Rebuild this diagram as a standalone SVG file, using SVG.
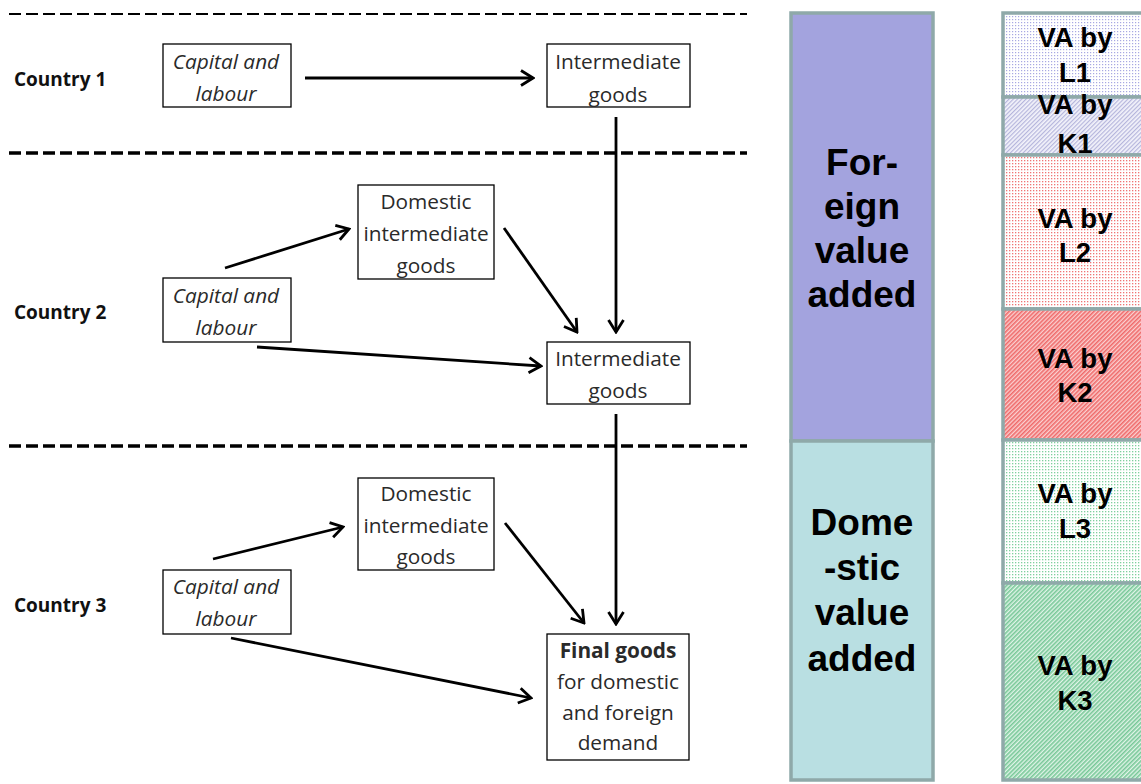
<svg xmlns="http://www.w3.org/2000/svg" width="1141" height="784" viewBox="0 0 1141 784">
<style>
.box{fill:#fff;stroke:#000;stroke-width:1.3}
.bt{font-family:"Open Sans","Liberation Sans",sans-serif;font-size:20.8px;fill:#2a2a2a;text-anchor:middle}
.it{font-style:italic}
.cl{font-family:"Open Sans","Liberation Sans",sans-serif;font-size:19px;font-weight:bold;fill:#111}
.dash{stroke:#000;stroke-dasharray:12 5;fill:none}
.arr{stroke:#000;stroke-width:2.8;fill:none;marker-end:url(#ah)}
.big{font-family:"Liberation Sans",Arial,sans-serif;font-weight:bold;font-size:37px;fill:#000;text-anchor:middle}
.va{font-family:"Liberation Sans",Arial,sans-serif;font-weight:bold;font-size:27.5px;fill:#000;text-anchor:middle}
.seg{stroke:#8fa9a9;stroke-width:3.5}
</style>
<defs>
<marker id="ah" viewBox="-15 -10 17 20" refX="0" refY="0" markerWidth="17" markerHeight="20" markerUnits="userSpaceOnUse" orient="auto">
<path d="M-12,-7.5 L0,0 L-12,7.5" fill="none" stroke="#000" stroke-width="2.8"/>
</marker>
<pattern id="dotP" width="3" height="3" patternUnits="userSpaceOnUse"><rect width="3" height="3" fill="#fff"/><rect x="1" y="1" width="1.2" height="1.2" fill="#a8a8e2"/></pattern>
<pattern id="hatP" width="3" height="3" patternUnits="userSpaceOnUse" patternTransform="rotate(45)"><rect width="3" height="3" fill="#f3f3fb"/><rect width="1.2" height="3" fill="#b5b5dc"/></pattern>
<pattern id="dotR" width="3" height="3" patternUnits="userSpaceOnUse"><rect width="3" height="3" fill="#fff"/><rect x="1" y="1" width="1.3" height="1.3" fill="#f07474"/></pattern>
<pattern id="hatR" width="3" height="3" patternUnits="userSpaceOnUse" patternTransform="rotate(45)"><rect width="3" height="3" fill="#fbd0d0"/><rect width="1.6" height="3" fill="#ef6a6a"/></pattern>
<pattern id="dotG" width="3" height="3" patternUnits="userSpaceOnUse"><rect width="3" height="3" fill="#fff"/><rect x="1" y="1" width="1.3" height="1.3" fill="#7fd09e"/></pattern>
<pattern id="hatG" width="3" height="3" patternUnits="userSpaceOnUse" patternTransform="rotate(45)"><rect width="3" height="3" fill="#e0f4e8"/><rect width="1.6" height="3" fill="#78c898"/></pattern>
</defs>
<rect width="1141" height="784" fill="#fff"/>

<g id="separators">
<line class="dash" x1="9" y1="14" x2="747" y2="14" stroke-width="2"/>
<line class="dash" x1="9" y1="153" x2="747" y2="153" stroke-width="3.5"/>
<line class="dash" x1="9" y1="446" x2="747" y2="446" stroke-width="3.5"/>
</g>

<g id="country-labels">
<text class="cl" x="14" y="86">Country 1</text>
<text class="cl" x="14" y="319">Country 2</text>
<text class="cl" x="14" y="612">Country 3</text>
</g>

<g id="connectors">
<line class="arr" x1="305" y1="78" x2="533" y2="78"/>
<line class="arr" x1="616" y1="117" x2="616" y2="332"/>
<line class="arr" x1="225" y1="268" x2="349" y2="229"/>
<line class="arr" x1="504" y1="228" x2="577" y2="332"/>
<line class="arr" x1="257" y1="347" x2="541" y2="366"/>
<line class="arr" x1="616" y1="414" x2="616" y2="624"/>
<line class="arr" x1="213" y1="559" x2="343" y2="527"/>
<line class="arr" x1="505" y1="523" x2="584" y2="623"/>
<line class="arr" x1="231" y1="638" x2="531" y2="698"/>
</g>

<g id="c1-capital">
<rect class="box" x="163" y="44" width="128" height="63"/>
<text class="bt it" x="226" y="69">Capital and</text>
<text class="bt it" x="226" y="101">labour</text>
</g>
<g id="c1-intermediate">
<rect class="box" x="547" y="44" width="143" height="63"/>
<text class="bt" x="618" y="69">Intermediate</text>
<text class="bt" x="618" y="102">goods</text>
</g>

<g id="c2-domestic">
<rect class="box" x="358" y="185" width="136" height="94"/>
<text class="bt" x="426" y="209">Domestic</text>
<text class="bt" x="426" y="241">intermediate</text>
<text class="bt" x="426" y="273">goods</text>
</g>
<g id="c2-capital">
<rect class="box" x="163" y="278" width="128" height="64"/>
<text class="bt it" x="226" y="303">Capital and</text>
<text class="bt it" x="226" y="335">labour</text>
</g>
<g id="c2-intermediate">
<rect class="box" x="547" y="342" width="143" height="62"/>
<text class="bt" x="618" y="366">Intermediate</text>
<text class="bt" x="618" y="398">goods</text>
</g>

<g id="c3-domestic">
<rect class="box" x="358" y="478" width="136" height="92"/>
<text class="bt" x="426" y="501">Domestic</text>
<text class="bt" x="426" y="533">intermediate</text>
<text class="bt" x="426" y="564">goods</text>
</g>
<g id="c3-capital">
<rect class="box" x="163" y="570" width="128" height="64"/>
<text class="bt it" x="226" y="594">Capital and</text>
<text class="bt it" x="226" y="626">labour</text>
</g>
<g id="c3-final">
<rect class="box" x="547" y="634" width="142" height="126" stroke-width="2.8"/>
<text class="bt" x="618" y="658" font-weight="bold" fill="#111">Final goods</text>
<text class="bt" x="618" y="689">for domestic</text>
<text class="bt" x="618" y="720">and foreign</text>
<text class="bt" x="618" y="750">demand</text>
</g>

<g id="value-added-split">
<rect class="seg" x="791" y="13" width="142" height="428" fill="#a3a3de"/>
<rect class="seg" x="791" y="441" width="142" height="339" fill="#b9dfe2"/>
<text class="big" x="862" y="175">For-</text>
<text class="big" x="862" y="219">eign</text>
<text class="big" x="862" y="263">value</text>
<text class="big" x="862" y="307">added</text>
<text class="big" x="862" y="535">Dome</text>
<text class="big" x="862" y="580">-stic</text>
<text class="big" x="862" y="625">value</text>
<text class="big" x="862" y="671">added</text>
</g>

<g id="factor-split">
<rect class="seg" x="1003" y="13" width="145" height="84" fill="url(#dotP)"/>
<rect class="seg" x="1003" y="97" width="145" height="58" fill="url(#hatP)"/>
<rect class="seg" x="1003" y="155" width="145" height="154" fill="url(#dotR)"/>
<rect class="seg" x="1003" y="309" width="145" height="131" fill="url(#hatR)"/>
<rect class="seg" x="1003" y="440" width="145" height="143" fill="url(#dotG)"/>
<rect class="seg" x="1003" y="583" width="145" height="197" fill="url(#hatG)"/>
<text class="va" x="1075" y="47">VA by</text>
<text class="va" x="1075" y="82">L1</text>
<text class="va" x="1075" y="114">VA by</text>
<text class="va" x="1075" y="153">K1</text>
<text class="va" x="1075" y="228">VA by</text>
<text class="va" x="1075" y="262">L2</text>
<text class="va" x="1075" y="368">VA by</text>
<text class="va" x="1075" y="402">K2</text>
<text class="va" x="1075" y="503">VA by</text>
<text class="va" x="1075" y="538">L3</text>
<text class="va" x="1075" y="675">VA by</text>
<text class="va" x="1075" y="710">K3</text>
</g>
</svg>
